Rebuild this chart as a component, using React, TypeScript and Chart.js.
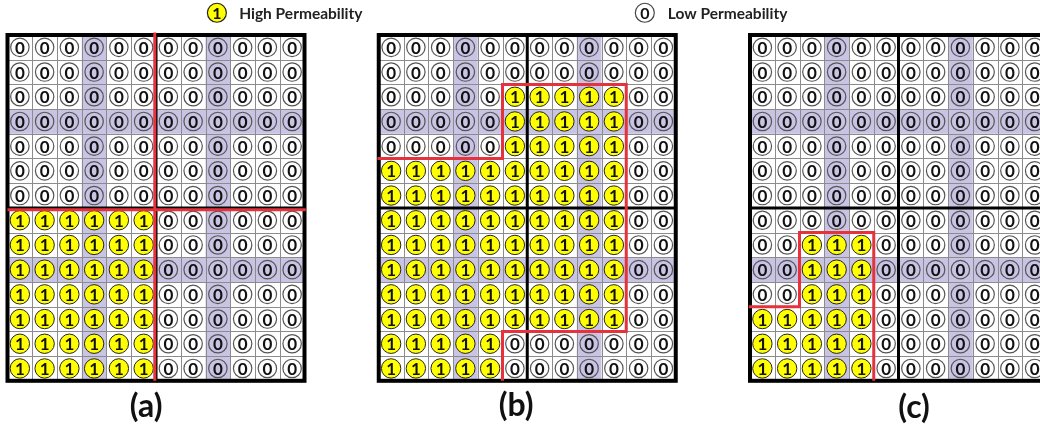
import React, { useEffect, useRef } from "react";
import { Chart, registerables } from "chart.js";
Chart.register(...registerables);

// ---- data ----
const panelOffsets = [0, 15, 30];
const panelLabels = ["(a)", "(b)", "(c)"];
const labelPos = [
  [5.6, 15.06],
  [20.55, 15.02],
  [36.63, 15.1],
];
const gridA = [
  "000000000000",
  "000000000000",
  "000000000000",
  "000000000000",
  "000000000000",
  "000000000000",
  "000000000000",
  "111111000000",
  "111111000000",
  "111111000000",
  "111111000000",
  "111111000000",
  "111111000000",
  "111111000000",
];
const gridB = [
  "000000000000",
  "000000000000",
  "000001111100",
  "000001111100",
  "000001111100",
  "111111111100",
  "111111111100",
  "111111111100",
  "111111111100",
  "111111111100",
  "111111111100",
  "111111111100",
  "111110000000",
  "111110000000",
];
const gridC = [
  "000000000000",
  "000000000000",
  "000000000000",
  "000000000000",
  "000000000000",
  "000000000000",
  "000000000000",
  "000000000000",
  "001110000000",
  "001110000000",
  "001110000000",
  "111110000000",
  "111110000000",
  "111110000000",
];
const grids = [gridA, gridB, gridC];
const redPathsA = [
  [[5.95, -0.1], [5.95, 14]],
  [[0, 7.08], [12.05, 7.08]],
];
const redPathsB = [
  [[-0.05, 5], [5, 5], [5, 2], [10, 2], [10, 12], [5, 12], [5, 14]],
];
const redPathsC = [
  [[-0.05, 11], [2, 11], [2, 8], [5, 8], [5, 14]],
];
const redPaths = [redPathsA, redPathsB, redPathsC];
const shadedRows = [3, 9];
const shadedCols = [3, 8];
const nRows = 14;
const nCols = 12;
const dividerCol = 6;
const dividerRow = 7;
const legendItems = [
  { digit: "1", text: "High Permeability", cx: 8.46, tx: 9.36, y: -0.9 },
  { digit: "0", text: "Low Permeability", cx: 25.75, tx: 26.68, y: -0.9 },
];

const YELLOW = "#ffff00";
const PURPLE = "#c9c3e4";
const RED = "#e5323d";
const FONT = "Lato, 'Open Sans', sans-serif";

export default function App() {
  const ref = useRef<HTMLCanvasElement | null>(null);
  useEffect(() => {
    document.body.style.margin = "0";
    const ones: { x: number; y: number }[] = [];
    const zeros: { x: number; y: number }[] = [];
    grids.forEach((g, p) => {
      g.forEach((row, r) => {
        row.split("").forEach((ch, c) => {
          const pt = { x: panelOffsets[p] + c + 0.5, y: r + 0.5 };
          if (ch === "1") ones.push(pt);
          else zeros.push(pt);
        });
      });
    });
    const lineSets: any[] = [];
    redPaths.forEach((paths, p) => {
      paths.forEach((path) => {
        lineSets.push({
          type: "line",
          label: "red",
          data: path.map(([x, y]) => ({ x: x + panelOffsets[p], y })),
          borderColor: RED,
          borderWidth: 3,
          pointRadius: 0,
          showLine: true,
          fill: false,
          tension: 0,
          order: 0,
          clip: false,
        });
      });
    });

    const gridPlugin = {
      id: "gridPlugin",
      beforeDatasetsDraw(chart: any) {
        const ctx = chart.ctx;
        const xs = chart.scales.x;
        const ys = chart.scales.y;
        const X = (v: number) => xs.getPixelForValue(v);
        const Y = (v: number) => ys.getPixelForValue(v);
        ctx.save();
        panelOffsets.forEach((o) => {
          ctx.fillStyle = PURPLE;
          shadedRows.forEach((r) => {
            ctx.fillRect(X(o), Y(r), X(o + nCols) - X(o), Y(r + 1) - Y(r));
          });
          shadedCols.forEach((c) => {
            ctx.fillRect(X(o + c), Y(0), X(o + c + 1) - X(o + c), Y(nRows) - Y(0));
          });
          ctx.strokeStyle = "#8c8c8c";
          ctx.lineWidth = 1;
          ctx.beginPath();
          for (let c = 1; c < nCols; c++) {
            const px = Math.round(X(o + c)) + 0.5;
            ctx.moveTo(px, Y(0));
            ctx.lineTo(px, Y(nRows));
          }
          for (let r = 1; r < nRows; r++) {
            const py = Math.round(Y(r)) + 0.5;
            ctx.moveTo(X(o), py);
            ctx.lineTo(X(o + nCols), py);
          }
          ctx.stroke();
          ctx.strokeStyle = "#000";
          ctx.lineWidth = 3;
          ctx.beginPath();
          ctx.moveTo(X(o + dividerCol), Y(0));
          ctx.lineTo(X(o + dividerCol), Y(nRows));
          ctx.moveTo(X(o), Y(dividerRow));
          ctx.lineTo(X(o + nCols), Y(dividerRow));
          ctx.stroke();
          ctx.lineWidth = 4;
          ctx.strokeRect(X(o), Y(0), X(o + nCols) - X(o), Y(nRows) - Y(0));
        });
        ctx.restore();
      },
      afterDatasetsDraw(chart: any) {
        const ctx = chart.ctx;
        const xs = chart.scales.x;
        const ys = chart.scales.y;
        const X = (v: number) => xs.getPixelForValue(v);
        const Y = (v: number) => ys.getPixelForValue(v);
        ctx.save();
        ctx.fillStyle = "#111";
        ctx.textAlign = "center";
        ctx.textBaseline = "middle";
        ctx.font = `bold 17px ${FONT}`;
        chart.data.datasets.forEach((ds: any, i: number) => {
          if (ds.label !== "1" && ds.label !== "0") return;
          const meta = chart.getDatasetMeta(i);
          meta.data.forEach((el: any) => {
            ctx.fillText(ds.label, el.x, el.y + 1);
          });
        });
        // legend
        legendItems.forEach((it) => {
          const cx = X(it.cx);
          const cy = Y(it.y);
          ctx.beginPath();
          ctx.arc(cx, cy, 9.5, 0, Math.PI * 2);
          ctx.fillStyle = it.digit === "1" ? YELLOW : "#fff";
          ctx.fill();
          ctx.lineWidth = 1.2;
          ctx.strokeStyle = it.digit === "1" ? "#222" : "#444";
          ctx.stroke();
          ctx.fillStyle = "#111";
          ctx.textAlign = "center";
          ctx.font = `bold 16px ${FONT}`;
          ctx.fillText(it.digit, cx, cy + 1);
          ctx.textAlign = "left";
          ctx.font = `bold 15.5px ${FONT}`;
          ctx.fillStyle = "#222";
          ctx.fillText(it.text, X(it.tx), cy + 1);
        });
        // panel labels
        ctx.textAlign = "center";
        ctx.font = `bold 32px ${FONT}`;
        ctx.fillStyle = "#111";
        panelLabels.forEach((t, p) => {
          ctx.fillText(t, X(labelPos[p][0]), Y(labelPos[p][1]));
        });
        ctx.restore();
      },
    };

    const chart = new Chart(ref.current as HTMLCanvasElement, {
      type: "scatter",
      data: {
        datasets: [
          ...lineSets,
          {
            label: "1",
            data: ones,
            pointRadius: 9.7,
            pointBackgroundColor: YELLOW,
            pointBorderColor: "#222",
            pointBorderWidth: 1,
            order: 1,
          },
          {
            label: "0",
            data: zeros,
            pointRadius: 9.2,
            pointBackgroundColor: "rgba(0,0,0,0)",
            pointBorderColor: "#555",
            pointBorderWidth: 1.2,
            order: 1,
          },
        ],
      },
      options: {
        responsive: false,
        animation: false,
        devicePixelRatio: 1,
        layout: { padding: 0, autoPadding: false },
        plugins: { legend: { display: false }, tooltip: { enabled: false } },
        scales: {
          x: { type: "linear", min: -0.303, max: 41.717, display: false },
          y: { type: "linear", min: -1.417, max: 15.992, reverse: true, display: false },
        },
      },
      plugins: [gridPlugin],
    } as any);
    return () => chart.destroy();
  }, []);
  return <canvas ref={ref} width={1040} height={430} style={{ display: "block" }} />;
}
